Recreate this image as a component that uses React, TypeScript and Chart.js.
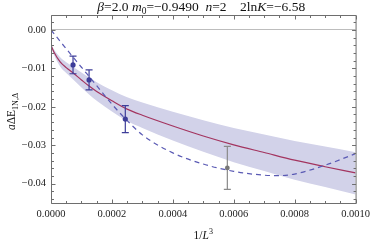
import React, { useEffect, useRef } from "react";
import { Chart, registerables } from "chart.js";

Chart.register(...registerables);

// ---- data ----
const curveX = [0, 0.00001, 0.00003, 0.00005, 0.0000727, 0.0001, 0.000125, 0.00015, 0.0002, 0.00025, 0.0003, 0.0004, 0.0005, 0.0006, 0.0007, 0.0008, 0.0009, 0.001];
const fitCentral = [-0.0040, -0.0058, -0.0083, -0.0098, -0.0112, -0.0130, -0.0146, -0.0160, -0.0184, -0.0206, -0.0222, -0.0250, -0.0276, -0.0299, -0.0319, -0.0339, -0.0356, -0.0372];
const fitUpper = [-0.0036, -0.0051, -0.0071, -0.0084, -0.0096, -0.0111, -0.0124, -0.0136, -0.0157, -0.0175, -0.0189, -0.0213, -0.0235, -0.0255, -0.0272, -0.0289, -0.0303, -0.0318];
const fitLower = [-0.0044, -0.0065, -0.0095, -0.0112, -0.0129, -0.0150, -0.0168, -0.0184, -0.0212, -0.0237, -0.0255, -0.0288, -0.0317, -0.0344, -0.0367, -0.0390, -0.0409, -0.0428];

const dashedX = [0, 0.00005, 0.0001, 0.00015, 0.0002, 0.00025, 0.0003, 0.0004, 0.0005, 0.0006, 0.0007, 0.00075, 0.0008, 0.0009, 0.001];
const dashedY = [0.0, -0.0049, -0.0097, -0.0145, -0.0193, -0.0236, -0.0273, -0.0320, -0.0349, -0.0368, -0.0378, -0.0379, -0.0375, -0.0352, -0.0322];

const pointsX = [0.0000723, 0.000125, 0.000244];
const pointsY = [-0.0091, -0.0130, -0.0232];
const pointsErr = [0.0023, 0.0026, 0.0035];

const grayX = [0.000579];
const grayY = [-0.0359];
const grayErr = [0.0056];

const xMin = 0, xMax = 0.001, xStep = 0.0002, xMinor = 0.00005;
const yMin = -0.0453, yMax = 0.0039, yStep = 0.01, yMinor = 0.002;

const titleRuns = [
  { t: "\u03B2", i: true }, { t: "=2.0 " }, { t: "m", i: true }, { t: "0", sub: true },
  { t: "=\u22120.9490  " }, { t: "n", i: true }, { t: "=2    2ln" }, { t: "K", i: true }, { t: "=\u22126.58" },
];
const yLabelRuns = [{ t: "a", i: true }, { t: "\u0394E" }, { t: "1N,\u0394", sub: true }];
const xLabelRuns = [{ t: "1/" }, { t: "L", i: true }, { t: "3", sup: true }];

const SERIF = '"Liberation Serif", "DejaVu Serif", serif';
const BLUE = "#3d3d99";
const RED = "#a3345f";
const DASH = "#5a5ab4";
const BAND = "rgb(210,210,233)";
const GRAY = "#8a8a8a";

function zip(xs: number[], ys: number[]) {
  return xs.map((x, i) => ({ x, y: ys[i] }));
}

function runFont(r: any, size: number) {
  const s = r.sub || r.sup ? size * 0.7 : size;
  return `${r.i ? "italic " : ""}${s}px ${SERIF}`;
}

function drawRuns(ctx: CanvasRenderingContext2D, runs: any[], cx: number, baseY: number, size: number) {
  let total = 0;
  for (const r of runs) {
    ctx.font = runFont(r, size);
    total += ctx.measureText(r.t).width;
  }
  let x = cx - total / 2;
  ctx.textAlign = "left";
  ctx.textBaseline = "alphabetic";
  for (const r of runs) {
    ctx.font = runFont(r, size);
    const dy = r.sub ? size * 0.25 : r.sup ? -size * 0.4 : 0;
    ctx.fillText(r.t, x, baseY + dy);
    x += ctx.measureText(r.t).width;
  }
}

const framePlugin = {
  id: "frameTicks",
  afterDraw(chart: any) {
    const ctx = chart.ctx as CanvasRenderingContext2D;
    const { left, right, top, bottom } = chart.chartArea;
    const xs = chart.scales.x;
    const ys = chart.scales.y;
    ctx.save();
    ctx.strokeStyle = "#6e6e6e";
    ctx.lineWidth = 1;
    const L = left + 0.5, R = right + 0.5, T = top + 0.5, B = bottom - 0.5;
    ctx.beginPath();
    ctx.rect(L, T, R - L, B - T);
    ctx.stroke();
    // ticks
    ctx.beginPath();
    const nx = Math.round((xMax - xMin) / xMinor);
    for (let k = 0; k <= nx; k++) {
      const v = xMin + k * xMinor;
      const major = k % Math.round(xStep / xMinor) === 0;
      const len = major ? 4 : 2.5;
      const px = Math.round(xs.getPixelForValue(v)) + 0.5;
      ctx.moveTo(px, B); ctx.lineTo(px, B - len);
      ctx.moveTo(px, T); ctx.lineTo(px, T + len);
    }
    const kStart = Math.ceil(yMin / yMinor - 1e-9);
    const kEnd = Math.floor(yMax / yMinor + 1e-9);
    const per = Math.round(yStep / yMinor);
    for (let k = kStart; k <= kEnd; k++) {
      const v = k * yMinor;
      const major = k % per === 0;
      const len = major ? 4 : 2.5;
      const py = Math.round(ys.getPixelForValue(v)) + 0.5;
      ctx.moveTo(L, py); ctx.lineTo(L + len, py);
      ctx.moveTo(R, py); ctx.lineTo(R - len, py);
    }
    ctx.stroke();

    // texts
    ctx.fillStyle = "#111";
    const cx = (left + right) / 2;
    drawRuns(ctx, titleRuns, cx - 2, 11, 13.5);
    drawRuns(ctx, xLabelRuns, cx, 239, 11.5);
    ctx.save();
    ctx.translate(15, (top + bottom) / 2 + 2);
    ctx.rotate(-Math.PI / 2);
    drawRuns(ctx, yLabelRuns, 0, 0, 11.5);
    ctx.restore();
    ctx.restore();
  },
};

function errorBar(x: number, y: number, e: number, color: string) {
  return {
    data: [{ x, y: y - e }, { x, y: y + e }],
    showLine: true,
    borderColor: color,
    borderWidth: 1.2,
    pointStyle: "line",
    pointRadius: 3.5,
    pointBorderColor: color,
    pointBorderWidth: 1.2,
    pointBackgroundColor: color,
  };
}

export default function App() {
  const ref = useRef<HTMLCanvasElement>(null);
  useEffect(() => {
    if (!ref.current) return;
    const datasets: any[] = [];
    datasets.push({
      data: zip(pointsX, pointsY),
      pointStyle: "circle",
      pointRadius: 2.6,
      pointBackgroundColor: BLUE,
      pointBorderColor: BLUE,
      pointBorderWidth: 0,
    });
    datasets.push({
      data: zip(grayX, grayY),
      pointStyle: "circle",
      pointRadius: 2.4,
      pointBackgroundColor: "#777",
      pointBorderColor: "#777",
      pointBorderWidth: 0,
    });
    pointsX.forEach((x, i) => datasets.push(errorBar(x, pointsY[i], pointsErr[i], BLUE)));
    grayX.forEach((x, i) => datasets.push(errorBar(x, grayY[i], grayErr[i], GRAY)));
    datasets.push({
      data: zip(dashedX, dashedY),
      showLine: true,
      borderColor: DASH,
      borderWidth: 1.2,
      borderDash: [5, 4],
      pointRadius: 0,
      cubicInterpolationMode: "monotone",
    });
    datasets.push({
      data: zip(curveX, fitCentral),
      showLine: true,
      borderColor: RED,
      borderWidth: 1.2,
      pointRadius: 0,
      cubicInterpolationMode: "monotone",
    });
    datasets.push({
      data: zip(curveX, fitUpper),
      showLine: true,
      borderWidth: 0,
      borderColor: "rgba(0,0,0,0)",
      backgroundColor: BAND,
      fill: "+1",
      pointRadius: 0,
      cubicInterpolationMode: "monotone",
    });
    datasets.push({
      data: zip(curveX, fitLower),
      showLine: true,
      borderWidth: 0,
      borderColor: "rgba(0,0,0,0)",
      pointRadius: 0,
      cubicInterpolationMode: "monotone",
    });

    const tickFont = { family: SERIF, size: 10.5 };
    const chart = new Chart(ref.current, {
      type: "scatter",
      data: { datasets },
      plugins: [framePlugin],
      options: {
        animation: false,
        responsive: false,
        events: [],
        layout: { padding: { left: 0, right: 16, top: 15, bottom: 0 } },
        plugins: { legend: { display: false }, tooltip: { enabled: false }, title: { display: false } },
        scales: {
          x: {
            type: "linear",
            min: xMin,
            max: xMax,
            afterFit: (s: any) => { s.height = 38; },
            grid: { display: false, drawTicks: false },
            border: { display: false },
            ticks: {
              stepSize: xStep,
              autoSkip: false,
              maxRotation: 0,
              padding: 4,
              color: "#222",
              font: tickFont,
              callback: (v: any) => Number(v).toFixed(4),
            },
          },
          y: {
            type: "linear",
            min: yMin,
            max: yMax,
            afterFit: (s: any) => { s.width = 51; },
            grid: {
              display: true,
              drawTicks: false,
              color: (c: any) => (c.tick && Math.abs(c.tick.value) < 1e-9 ? "#bdbdbd" : "rgba(0,0,0,0)"),
            },
            border: { display: false },
            ticks: {
              stepSize: yStep,
              includeBounds: false,
              autoSkip: false,
              padding: 5,
              color: "#222",
              font: tickFont,
              callback: (v: any) => {
                const n = Number(v);
                const s = Math.abs(n) < 1e-9 ? "0.00" : n.toFixed(2);
                return s.replace("-", "\u2212");
              },
            },
          },
        },
      } as any,
    });
    return () => chart.destroy();
  }, []);
  return (
    <div style={{ position: "fixed", left: 0, top: 0, width: 374, height: 242, background: "#fff" }}>
      <canvas ref={ref} width={374} height={242} style={{ display: "block" }} />
    </div>
  );
}
